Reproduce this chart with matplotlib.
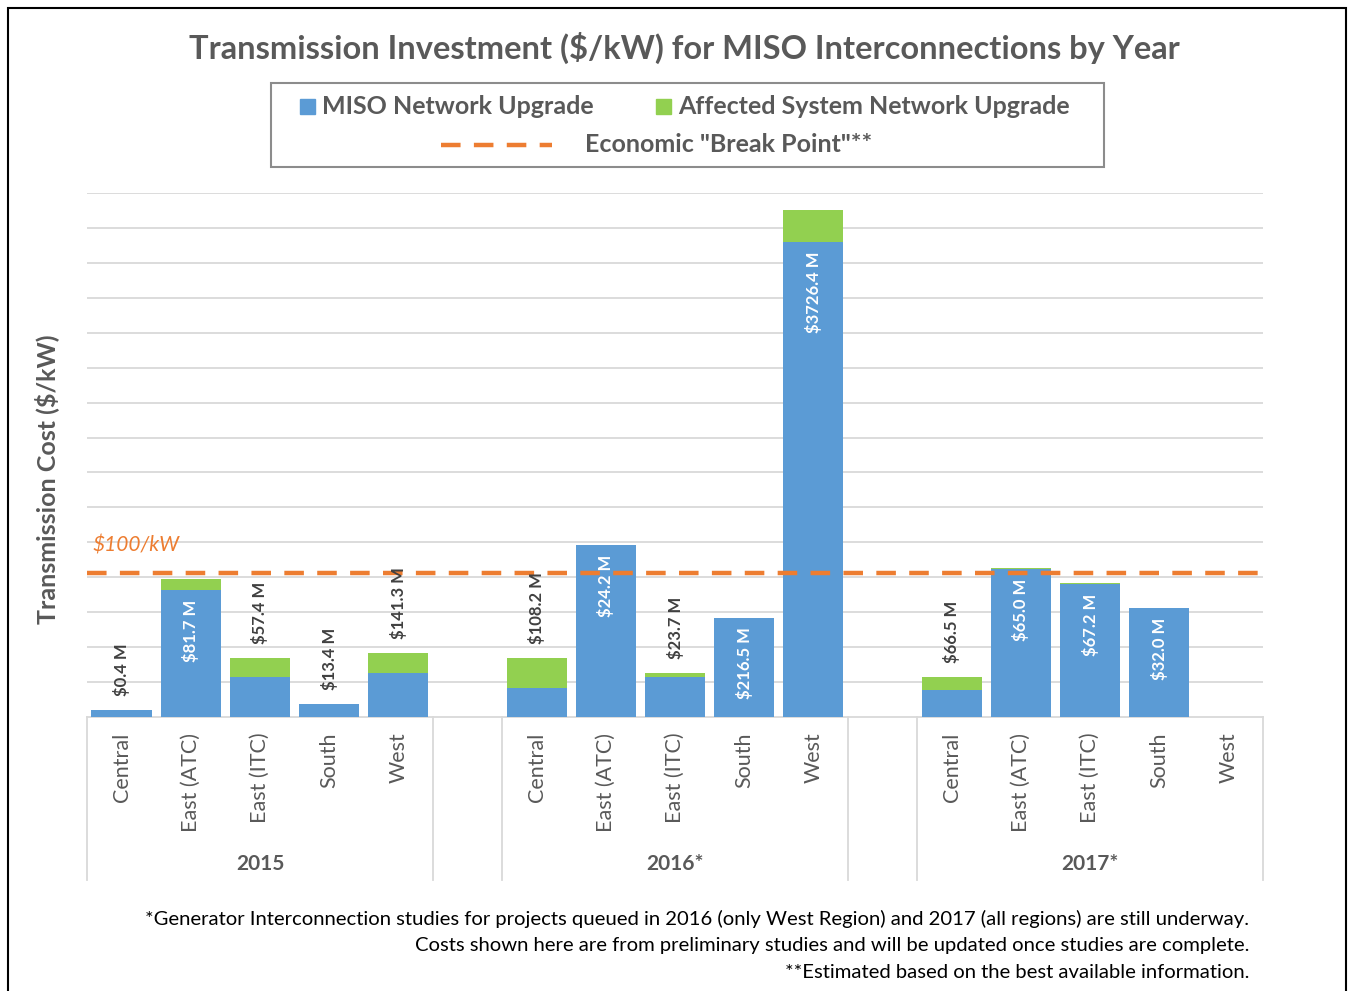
import numpy as np
import matplotlib
matplotlib.use("Agg")
import matplotlib.pyplot as plt
import matplotlib.transforms as mtransforms
from matplotlib.patches import Rectangle
from matplotlib.lines import Line2D

plt.rcParams['font.family'] = ['Lato', 'DejaVu Sans']

# data ($/kW)
regions = ["Central", "East (ATC)", "East (ITC)", "South", "West"]
years = ["2015", "2016*", "2017*"]
miso_2015 = [4.8, 91.0, 28.7, 9.1, 31.4]
affected_2015 = [0, 8.1, 13.7, 0, 14.4]
miso_2016 = [20.6, 123.3, 28.3, 71.1, 340.0]
affected_2016 = [21.3, 0, 3.1, 0, 22.6]
miso_2017 = [19.2, 105.8, 95.3, 77.8, 0]
affected_2017 = [9.5, 1.0, 0.8, 0, 0]
labels_2015 = ["$0.4 M", "$81.7 M", "$57.4 M", "$13.4 M", "$141.3 M"]
labels_2016 = ["$108.2 M", "$24.2 M", "$23.7 M", "$216.5 M", "$3726.4 M"]
labels_2017 = ["$66.5 M", "$65.0 M", "$67.2 M", "$32.0 M", ""]
break_point = 103

BLUE = "#5B9BD5"
GREEN = "#92D050"
ORANGE = "#ED7D31"
GRID = "#D9D9D9"
TXT = "#595959"

W, H = 1348, 991
fig = plt.figure(figsize=(W / 100, H / 100), dpi=100)
ax = fig.add_axes([87 / W, 1 - 717 / H, (1263 - 87) / W, (717 - 193) / H])

miso = [miso_2015, miso_2016, miso_2017]
aff = [affected_2015, affected_2016, affected_2017]
labs = [labels_2015, labels_2016, labels_2017]

for g in range(3):
    x = np.arange(5) + g * 6
    m = np.array(miso[g])
    a = np.array(aff[g])
    ax.bar(x, m, width=0.87, color=BLUE, zorder=3)
    ax.bar(x, a, bottom=m, width=0.87, color=GREEN, zorder=3)
    for xi, mi, ai, lab in zip(x, m, a, labs[g]):
        if not lab:
            continue
        tot = mi + ai
        if tot > 60:
            ax.text(xi, mi - 7, lab, rotation=90, ha='center', va='top',
                    color='white', fontsize=12, fontweight='bold', zorder=5)
        else:
            ax.text(xi, tot + 10, lab, rotation=90, ha='center', va='bottom',
                    color='#404040', fontsize=12, fontweight='bold', zorder=5)

ax.axhline(break_point, xmin=0, xmax=0.996, color=ORANGE, lw=3.2,
           dashes=(4.4, 3.0), zorder=4)
ax.text(-0.42, break_point + 20, "$100/kW", color=ORANGE, fontsize=15,
        style='italic', va='center', ha='left')

ax.set_xlim(-0.5, 16.5)
ax.set_ylim(0, 375)
ax.set_yticks(np.arange(25, 376, 25))
ax.yaxis.grid(True, color=GRID, lw=1.3, zorder=0)
ax.tick_params(axis='y', length=0, labelleft=False)
for s in ['left', 'right', 'top']:
    ax.spines[s].set_visible(False)
ax.spines['bottom'].set_color(GRID)
ax.spines['bottom'].set_linewidth(1.3)

# category axis
ax.set_xticks([])
trans = mtransforms.blended_transform_factory(ax.transData, ax.transAxes)
for g in range(3):
    for i, r in enumerate(regions):
        ax.text(i + g * 6, -0.03, r, rotation=90, ha='center', va='top',
                fontsize=15.5, color=TXT, transform=trans)
    ax.text(2 + g * 6, -0.28, years[g], ha='center', va='center',
            fontsize=15, fontweight='bold', color=TXT, transform=trans)
    for xe in (g * 6 - 0.5, g * 6 + 4.5):
        ax.plot([xe, xe], [0, -0.311], color=GRID, lw=1.3,
                transform=trans, clip_on=False)

fig.text(47 / W, 1 - 479 / H, "Transmission Cost ($/kW)", rotation=90,
         ha='center', va='center', fontsize=18, fontweight='bold', color=TXT)

fig.text(684 / W, 1 - 48 / H,
         "Transmission Investment ($/kW) for MISO Interconnections by Year",
         ha='center', va='center', fontsize=23.5, fontweight='bold', color=TXT)

# legend drawn by hand
fig.add_artist(Rectangle((271 / W, 1 - 167 / H), (1104 - 271) / W, 84 / H,
                         transform=fig.transFigure, fill=False,
                         edgecolor='#8C8C8C', lw=1.5))
fig.add_artist(Rectangle((300 / W, 1 - 114 / H), 15 / W, 15 / H,
                         transform=fig.transFigure, color=BLUE))
fig.text(322 / W, 1 - 106 / H, "MISO Network Upgrade", va='center',
         ha='left', fontsize=18, fontweight='bold', color=TXT)
fig.add_artist(Rectangle((656 / W, 1 - 114 / H), 15 / W, 15 / H,
                         transform=fig.transFigure, color=GREEN))
fig.text(678 / W, 1 - 106 / H, "Affected System Network Upgrade",
         va='center', ha='left', fontsize=18, fontweight='bold', color=TXT)
fig.add_artist(Line2D([441 / W, 552 / W], [1 - 145 / H, 1 - 145 / H],
                      transform=fig.transFigure, color=ORANGE, lw=3.2,
                      dashes=(4.4, 3.0)))
fig.text(585 / W, 1 - 145 / H, 'Economic "Break Point"**', va='center',
         ha='left', fontsize=18, fontweight='bold', color=TXT)

# footnotes
notes = ["*Generator Interconnection studies for projects queued in 2016 (only West Region) and 2017 (all regions) are still underway.",
         "Costs shown here are from preliminary studies and will be updated once studies are complete.",
         "**Estimated based on the best available information."]
for k, n in enumerate(notes):
    fig.text(1249 / W, 1 - (919 + 26.5 * k) / H, n, ha='right', va='center',
             fontsize=14.6, color='black')

# outer frame
fig.add_artist(Rectangle((8 / W, -0.02), (1346 - 8) / W, (1.02 - 8 / H),
                         transform=fig.transFigure, fill=False,
                         edgecolor='black', lw=1.5))

fig.savefig("out.png", dpi=100, facecolor='white')
